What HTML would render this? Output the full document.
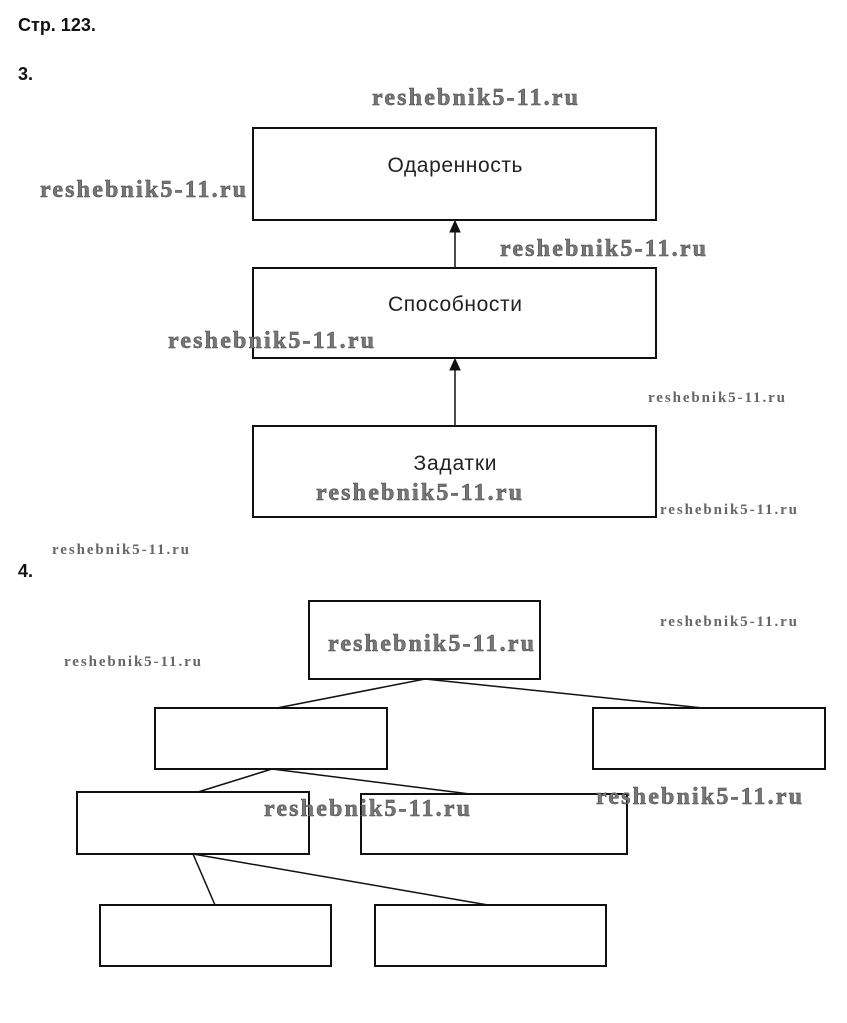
<!DOCTYPE html>
<html><head><meta charset="utf-8"><style>
html,body{margin:0;padding:0;background:#fff;}
svg{display:block;}
.h{font-family:"Liberation Sans",sans-serif;font-weight:bold;font-size:18px;fill:#111;}
.t{font-family:"Liberation Sans",sans-serif;font-size:21px;fill:#222;}
.w{font-family:"Liberation Serif",serif;font-weight:bold;font-size:24px;fill:#777;stroke:#444;stroke-width:0.5;}
.s{font-family:"Liberation Serif",serif;font-weight:bold;font-size:15px;fill:#666;}
rect{fill:none;stroke:#111;stroke-width:2;}
line{stroke:#111;stroke-width:1.5;}
</style></head><body>
<svg width="847" height="1023" xmlns="http://www.w3.org/2000/svg">
<text class="h" x="18" y="31">Стр. 123.</text>
<text class="h" x="18" y="80">3.</text>
<text class="h" x="18" y="577">4.</text>

<rect x="253" y="128" width="403" height="92"/>
<rect x="253" y="268" width="403" height="90"/>
<rect x="253" y="426" width="403" height="91"/>
<line x1="455" y1="268" x2="455" y2="222"/>
<path d="M450,232 L455,221 L460,232 Z" fill="#111" stroke="#111" stroke-width="1"/>
<line x1="455" y1="426" x2="455" y2="360"/>
<path d="M450,370 L455,359 L460,370 Z" fill="#111" stroke="#111" stroke-width="1"/>
<text class="t" x="455" y="172" text-anchor="middle" textLength="135">Одаренность</text>
<text class="t" x="455" y="311" text-anchor="middle" textLength="134">Способности</text>
<text class="t" x="455" y="470" text-anchor="middle" textLength="83">Задатки</text>

<rect x="309" y="601" width="231" height="78"/>
<rect x="155" y="708" width="232" height="61"/>
<rect x="593" y="708" width="232" height="61"/>
<rect x="77" y="792" width="232" height="62"/>
<rect x="361" y="794" width="266" height="60"/>
<rect x="100" y="905" width="231" height="61"/>
<rect x="375" y="905" width="231" height="61"/>
<line x1="425" y1="679" x2="277" y2="708"/>
<line x1="425" y1="679" x2="703" y2="708"/>
<line x1="272" y1="769" x2="198" y2="792"/>
<line x1="272" y1="769" x2="470" y2="794"/>
<line x1="193" y1="854" x2="215" y2="905"/>
<line x1="193" y1="854" x2="488" y2="905"/>

<g class="w">
<text class="w" x="372" y="105" textLength="206">reshebnik5-11.ru</text>
<text class="w" x="40" y="197" textLength="206">reshebnik5-11.ru</text>
<text class="w" x="500" y="256" textLength="206">reshebnik5-11.ru</text>
<text class="w" x="168" y="348" textLength="206">reshebnik5-11.ru</text>
<text class="w" x="316" y="500" textLength="206">reshebnik5-11.ru</text>
<text class="w" x="328" y="651" textLength="206">reshebnik5-11.ru</text>
<text class="w" x="264" y="816" textLength="206">reshebnik5-11.ru</text>
<text class="w" x="596" y="804" textLength="206">reshebnik5-11.ru</text>
</g>
<text class="s" x="648" y="402" textLength="137">reshebnik5-11.ru</text>
<text class="s" x="660" y="514" textLength="137">reshebnik5-11.ru</text>
<text class="s" x="52" y="554" textLength="137">reshebnik5-11.ru</text>
<text class="s" x="660" y="626" textLength="137">reshebnik5-11.ru</text>
<text class="s" x="64" y="666" textLength="137">reshebnik5-11.ru</text>
</svg>
</body></html>
